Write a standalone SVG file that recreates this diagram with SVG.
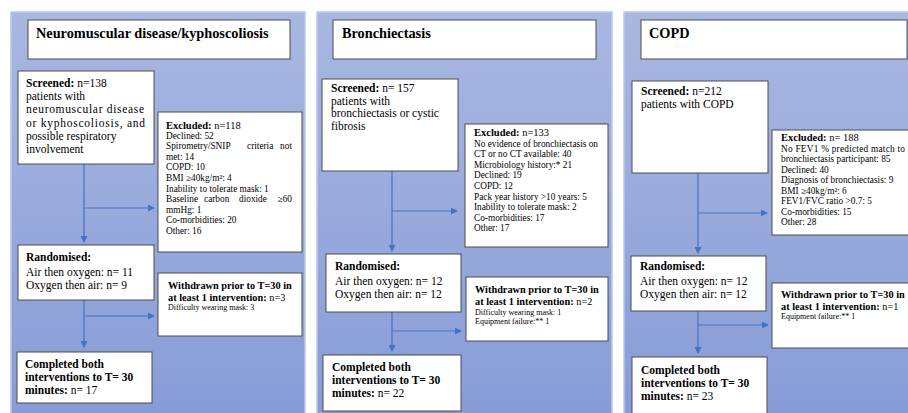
<svg xmlns="http://www.w3.org/2000/svg" width="908" height="413" viewBox="0 0 908 413" font-family="'Liberation Serif', 'DejaVu Serif', 'Times New Roman', serif">
<defs>
  <linearGradient id="bg" x1="0" y1="0" x2="0" y2="1">
    <stop offset="0" stop-color="#a9b8e1"/>
    <stop offset="1" stop-color="#879cd7"/>
  </linearGradient>
  <marker id="ah" markerUnits="userSpaceOnUse" markerWidth="7" markerHeight="7" refX="6" refY="3.5" orient="auto">
    <path d="M0,0 L7,3.5 L0,7 Z" fill="#4472c4"/>
  </marker>
  <style>
    .panel { fill: url(#bg); stroke: #bcc8ec; stroke-width: 1.5; }
    .box { fill: #fff; stroke: #4d4d4d; stroke-width: 1; }
    text { font-family: 'Liberation Serif', 'DejaVu Serif', 'Times New Roman', serif; fill: #000; }
    .title { font-size: 14.3px; font-weight: bold; }
    .main { font-size: 11.5px; }
    .exc { font-size: 9.3px; }
    .exh { font-size: 10.5px; }
    .wd { font-size: 10.3px; }
    .sm { font-size: 8px; }
    .b { font-weight: bold; }
    .conn { stroke: #4472c4; stroke-width: 1.2; fill: none; }
    .arr { marker-end: url(#ah); }
  </style>
</defs>
<rect width="908" height="413" fill="#fff"/>

<g id="panels">
  <rect class="panel" x="11" y="12" width="294" height="405"/>
  <rect class="panel" x="317" y="12" width="295" height="405"/>
  <rect class="panel" x="624" y="12" width="290" height="405"/>
</g>

<g id="connectors">
  <line class="conn arr" x1="84" y1="164" x2="84" y2="242"/>
  <line class="conn arr" x1="84" y1="208" x2="154" y2="208"/>
  <line class="conn arr" x1="84" y1="300" x2="84" y2="347"/>
  <line class="conn arr" x1="84" y1="316" x2="154" y2="316"/>
  <line class="conn arr" x1="392" y1="171" x2="392" y2="251"/>
  <line class="conn arr" x1="392" y1="211" x2="457" y2="211"/>
  <line class="conn arr" x1="392" y1="312" x2="392" y2="351"/>
  <line class="conn arr" x1="392" y1="331" x2="461" y2="331"/>
  <line class="conn arr" x1="698" y1="173" x2="698" y2="253"/>
  <line class="conn arr" x1="698" y1="213" x2="767" y2="213"/>
  <line class="conn arr" x1="698" y1="311" x2="698" y2="353"/>
  <line class="conn arr" x1="698" y1="325" x2="768" y2="325"/>
</g>

<g id="p1-title">
  <rect class="box" x="28" y="20" width="262" height="39"/>
  <text class="title" x="36" y="38">Neuromuscular disease/kyphoscoliosis</text>
</g>
<g id="p1-screened">
  <rect class="box" x="18" y="71" width="136" height="93"/>
  <text class="main" x="26" y="87"><tspan class="b">Screened:</tspan> n=138</text>
  <text class="main" x="26" y="100.2">patients with</text>
  <text class="main" x="26" y="113.4" textLength="118" lengthAdjust="spacing">neuromuscular disease</text>
  <text class="main" x="26" y="126.6" textLength="119" lengthAdjust="spacing">or kyphoscoliosis, and</text>
  <text class="main" x="26" y="139.8">possible respiratory</text>
  <text class="main" x="26" y="153">involvement</text>
</g>
<g id="p1-excluded">
  <rect class="box" x="158" y="112" width="144" height="140"/>
  <text class="exh" x="166" y="128.5"><tspan class="b">Excluded:</tspan> n=118</text>
  <text class="exc" x="166" y="138.5">Declined: 52</text>
  <text class="exc" y="149.1"><tspan x="166">Spirometry/SNIP</tspan><tspan x="247">criteria</tspan><tspan x="292" text-anchor="end">not</tspan></text>
  <text class="exc" x="166" y="159.7">met: 14</text>
  <text class="exc" x="166" y="170.3">COPD: 10</text>
  <text class="exc" x="166" y="180.9">BMI ≥40kg/m²: 4</text>
  <text class="exc" x="166" y="191.5">Inability to tolerate mask: 1</text>
  <text class="exc" y="202.1"><tspan x="166">Baseline</tspan><tspan x="204">carbon</tspan><tspan x="239">dioxide</tspan><tspan x="292" text-anchor="end">≥60</tspan></text>
  <text class="exc" x="166" y="212.7">mmHg: 1</text>
  <text class="exc" x="166" y="223.3">Co-morbidities: 20</text>
  <text class="exc" x="166" y="233.9">Other: 16</text>
</g>
<g id="p1-randomised">
  <rect class="box" x="18" y="245" width="136" height="55"/>
  <text class="main b" x="26" y="261">Randomised:</text>
  <text class="main" x="26" y="276">Air then oxygen: n= 11</text>
  <text class="main" x="26" y="289">Oxygen then air: n= 9</text>
</g>
<g id="p1-withdrawn">
  <rect class="box" x="158" y="273" width="144" height="63"/>
  <text class="wd b" x="168" y="289">Withdrawn prior to T=30 in</text>
  <text class="wd" x="168" y="301"><tspan class="b">at least 1 intervention:</tspan> n=3</text>
  <text class="sm" x="168" y="310">Difficulty wearing mask: 3</text>
</g>
<g id="p1-completed">
  <rect class="box" x="17" y="352" width="135" height="51"/>
  <text class="main b" x="25" y="368">Completed both</text>
  <text class="main b" x="25" y="381">interventions to T= 30</text>
  <text class="main" x="25" y="394"><tspan class="b">minutes:</tspan> n= 17</text>
</g>

<g id="p2-title">
  <rect class="box" x="333" y="20" width="263" height="39"/>
  <text class="title" x="342" y="38">Bronchiectasis</text>
</g>
<g id="p2-screened">
  <rect class="box" x="322" y="79" width="136" height="92"/>
  <text class="main" x="331" y="92"><tspan class="b">Screened:</tspan> n= 157</text>
  <text class="main" x="331" y="104.5">patients with</text>
  <text class="main" x="331" y="117">bronchiectasis or cystic</text>
  <text class="main" x="331" y="129.5">fibrosis</text>
</g>
<g id="p2-excluded">
  <rect class="box" x="465" y="124" width="143" height="123"/>
  <text class="exh" x="474" y="136"><tspan class="b">Excluded:</tspan> n=133</text>
  <text class="exc" x="474" y="146.6" textLength="124" lengthAdjust="spacing">No evidence of bronchiectasis on</text>
  <text class="exc" x="474" y="157.2">CT or no CT available: 40</text>
  <text class="exc" x="474" y="167.8">Microbiology history:* 21</text>
  <text class="exc" x="474" y="178.4">Declined: 19</text>
  <text class="exc" x="474" y="189">COPD: 12</text>
  <text class="exc" x="474" y="199.6">Pack year history &gt;10 years: 5</text>
  <text class="exc" x="474" y="210.2">Inability to tolerate mask: 2</text>
  <text class="exc" x="474" y="220.8">Co-morbidities: 17</text>
  <text class="exc" x="474" y="231.4">Other: 17</text>
</g>
<g id="p2-randomised">
  <rect class="box" x="326" y="254" width="135" height="58"/>
  <text class="main b" x="335" y="270">Randomised:</text>
  <text class="main" x="335" y="285">Air then oxygen: n= 12</text>
  <text class="main" x="335" y="298">Oxygen then air: n= 12</text>
</g>
<g id="p2-withdrawn">
  <rect class="box" x="466" y="277" width="142" height="64"/>
  <text class="wd b" x="475" y="293">Withdrawn prior to T=30 in</text>
  <text class="wd" x="475" y="305"><tspan class="b">at least 1 intervention:</tspan> n=2</text>
  <text class="sm" x="475" y="315">Difficulty wearing mask: 1</text>
  <text class="sm" x="475" y="324">Equipment failure:** 1</text>
</g>
<g id="p2-completed">
  <rect class="box" x="323" y="355" width="138" height="56"/>
  <text class="main b" x="332" y="371">Completed both</text>
  <text class="main b" x="332" y="384">interventions to T= 30</text>
  <text class="main" x="332" y="397"><tspan class="b">minutes:</tspan> n= 22</text>
</g>

<g id="p3-title">
  <rect class="box" x="641" y="20" width="266" height="39"/>
  <text class="title" x="649" y="38">COPD</text>
</g>
<g id="p3-screened">
  <rect class="box" x="632" y="81" width="136" height="92"/>
  <text class="main" x="641" y="95"><tspan class="b">Screened:</tspan> n=212</text>
  <text class="main" x="641" y="108">patients with COPD</text>
</g>
<g id="p3-excluded">
  <rect class="box" x="772" y="130" width="140" height="105"/>
  <text class="exh" x="781" y="141"><tspan class="b">Excluded:</tspan> n= 188</text>
  <text class="exc" x="781" y="151.5" textLength="124" lengthAdjust="spacing">No FEV1 % predicted match to</text>
  <text class="exc" x="781" y="162">bronchiectasis participant: 85</text>
  <text class="exc" x="781" y="172.5">Declined: 40</text>
  <text class="exc" x="781" y="183">Diagnosis of bronchiectasis: 9</text>
  <text class="exc" x="781" y="193.5">BMI ≥40kg/m²: 6</text>
  <text class="exc" x="781" y="204">FEV1/FVC ratio &gt;0.7: 5</text>
  <text class="exc" x="781" y="214.5">Co-morbidities: 15</text>
  <text class="exc" x="781" y="225">Other: 28</text>
</g>
<g id="p3-randomised">
  <rect class="box" x="631" y="256" width="135" height="55"/>
  <text class="main b" x="640" y="270">Randomised:</text>
  <text class="main" x="640" y="285">Air then oxygen: n= 12</text>
  <text class="main" x="640" y="298">Oxygen then air: n= 12</text>
</g>
<g id="p3-withdrawn">
  <rect class="box" x="772" y="283" width="140" height="65"/>
  <text class="wd b" x="781" y="298">Withdrawn prior to T=30 in</text>
  <text class="wd" x="781" y="310"><tspan class="b">at least 1 intervention:</tspan> n=1</text>
  <text class="sm" x="781" y="319">Equipment failure:** 1</text>
</g>
<g id="p3-completed">
  <rect class="box" x="632" y="357" width="135" height="60"/>
  <text class="main b" x="641" y="374">Completed both</text>
  <text class="main b" x="641" y="387">interventions to T= 30</text>
  <text class="main" x="641" y="400"><tspan class="b">minutes:</tspan> n= 23</text>
</g>
</svg>
